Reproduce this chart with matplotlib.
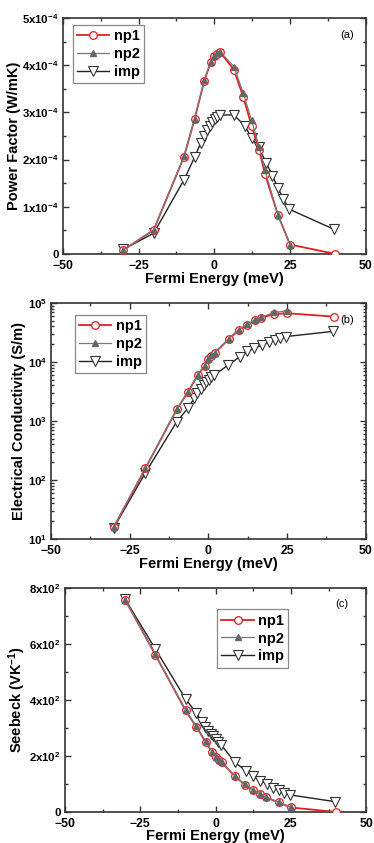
import matplotlib
matplotlib.use('Agg')
import matplotlib.pyplot as plt
from matplotlib.ticker import AutoMinorLocator, LogLocator, NullFormatter

plt.rcParams['font.family'] = ['Liberation Sans', 'DejaVu Sans']
plt.rcParams['font.weight'] = 'bold'
plt.rcParams['mathtext.fontset'] = 'custom'
plt.rcParams['mathtext.rm'] = 'Liberation Sans:bold'
plt.rcParams['mathtext.bf'] = 'Liberation Sans:bold'
plt.rcParams['mathtext.default'] = 'bf'

# Fermi energies (meV)
e_np = [-30, -20, -10, -6.5, -3.3, -1.2, 0, 1, 2, 6.5, 9.6, 12.3, 14.8, 16.7, 21, 25, 40]
e_np2 = e_np[:-1]
e_imp = [-30, -20, -10, -6.5, -4.5, -3.5, -2.4, -1.5, -0.8, 0.1, 0.9, 1.8,
         6.4, 10, 12.4, 14.6, 17.2, 19.2, 21.1, 22.8, 24.7, 39.6]

# (a) power factor, units of 1e-4 W/mK
pf_np1 = [0.085, 0.51, 2.06, 2.86, 3.67, 4.06, 4.19, 4.24, 4.27, 3.9, 3.32, 2.72, 2.2, 1.70, 0.83, 0.2, 0.0]
pf_np2 = [0.085, 0.51, 2.07, 2.87, 3.68, 4.07, 4.2, 4.25, 4.28, 3.97, 3.4, 2.83, 2.27, 1.78, 0.83, 0.2]
pf_imp = [0.1, 0.44, 1.57, 2.05, 2.35, 2.51, 2.63, 2.72, 2.79, 2.86, 2.91, 2.94,
          2.95, 2.72, 2.45, 2.26, 1.92, 1.66, 1.39, 1.17, 0.95, 0.52]

# (b) electrical conductivity (S/m)
sg_np1 = [16, 157, 1580, 3070, 6030, 8600, 11200, 12700, 14100, 24500, 34300,
          42500, 50700, 56300, 64900, 67000, 58700]
sg_np2 = [16, 157, 1590, 3100, 6100, 8700, 11300, 12900, 14300, 25000, 35000,
          43500, 52000, 57500, 69000, 74000]
sg_imp = [15.6, 132, 975, 1640, 2430, 2950, 3550, 4100, 4600, 4980, 5500, 6000,
          8900, 12300, 15100, 17200, 19500, 21700, 23800, 25900, 27000, 33000]

# (c) Seebeck
sb_np1 = [757, 561, 363, 305, 250, 214, 197, 186, 177, 127, 98, 78, 64, 52, 34, 16, 0]
sb_np2 = [757, 563, 365, 307, 252, 215, 198, 187, 178, 128, 99, 79, 65, 53, 35, 17]
sb_imp = [759, 582, 404, 355, 322, 305, 291, 279, 270, 261, 251, 241,
          177, 148, 128, 112, 100, 87, 78, 69, 61, 37]

labels = ['np1', 'np2', 'imp']
red = '#e02020'
gray = '#7a7a7a'

fig = plt.figure(figsize=(3.74, 8.43), dpi=100)
ax_a = fig.add_axes([0.168, 0.6987, 0.810, 0.280])
ax_b = fig.add_axes([0.136, 0.3606, 0.842, 0.280])
ax_c = fig.add_axes([0.174, 0.0368, 0.805, 0.2657])


def draw(ax, y1, y2, y3):
    ax.plot(e_np, y1, '-o', color=red, lw=1.3, ms=5.5, mfc='white', mec=red, mew=0.9, label=labels[0], zorder=3)
    ax.plot(e_np2, y2, '-^', color=gray, lw=0.9, ms=4.5, mfc='#666666', mec='#666666', label=labels[1], zorder=4)
    ax.plot(e_imp, y3, '-v', color='#222222', lw=1.0, ms=6.5, mfc='white', mec='#333333', mew=0.8, label=labels[2], zorder=2)


def style(ax, tag, tagx, legpos, xpad=0):
    ax.set_xlim(-50, 50)
    ax.set_xticks([-50, -25, 0, 25, 50])
    ax.xaxis.set_minor_locator(AutoMinorLocator(2))
    ax.tick_params(which='both', direction='in', top=True, right=True, width=1, color='#333333')
    ax.tick_params(which='major', length=4.5)
    ax.tick_params(which='minor', length=2.5)
    ax.tick_params(axis='x', labelsize=8.8, pad=4.5)
    ax.tick_params(axis='y', labelsize=8.2, pad=3)
    for s in ax.spines.values():
        s.set_linewidth(1.2)
        s.set_color('#333333')
    ax.set_xlabel('Fermi Energy (meV)', fontsize=10.5, fontweight='bold', labelpad=xpad)
    ax.text(tagx, 0.928, tag, transform=ax.transAxes, fontsize=8, fontweight='normal',
            ha='center', va='center')
    leg = ax.legend(loc='upper left', bbox_to_anchor=legpos, borderaxespad=0, fancybox=False,
                    edgecolor='#888888', fontsize=10.5, handlelength=2.2, handletextpad=0.3,
                    labelspacing=0.25, borderpad=0.3, framealpha=1)
    leg.get_frame().set_linewidth(0.9)


draw(ax_a, [v * 1e-4 for v in pf_np1], [v * 1e-4 for v in pf_np2], [v * 1e-4 for v in pf_imp])
ax_a.set_ylim(0, 5e-4)
ax_a.set_yticks([0, 1e-4, 2e-4, 3e-4, 4e-4, 5e-4])
ax_a.set_yticklabels(['0'] + ['%dx10$^{-4}$' % k for k in range(1, 6)])
ax_a.yaxis.set_minor_locator(AutoMinorLocator(2))
ax_a.set_ylabel('Power Factor (W/mK)', fontsize=10.5, fontweight='bold', labelpad=1)
style(ax_a, '(a)', 0.937, (0.033, 0.97))

draw(ax_b, sg_np1, sg_np2, sg_imp)
ax_b.set_yscale('log')
ax_b.set_ylim(10, 1e5)
ax_b.set_yticks([10, 100, 1000, 1e4, 1e5])
ax_b.set_yticklabels(['10$^{%d}$' % k for k in range(1, 6)])
ax_b.yaxis.set_minor_locator(LogLocator(base=10, subs=range(2, 10), numticks=20))
ax_b.yaxis.set_minor_formatter(NullFormatter())
ax_b.set_ylabel('Electrical Conductivity (S/m)', fontsize=10.5, fontweight='bold', labelpad=1)
style(ax_b, '(b)', 0.94, (0.076, 0.949))

draw(ax_c, sb_np1, sb_np2, sb_imp)
ax_c.set_ylim(0, 800)
ax_c.set_yticks([0, 200, 400, 600, 800])
ax_c.set_yticklabels(['0'] + ['%dx10$^{2}$' % k for k in (2, 4, 6, 8)])
ax_c.yaxis.set_minor_locator(AutoMinorLocator(2))
ax_c.set_ylabel('Seebeck (VK$^{-1}$)', fontsize=10.5, fontweight='bold', labelpad=1)
style(ax_c, '(c)', 0.92, (0.505, 0.904), xpad=-1)

fig.savefig('out.png', dpi=100)
